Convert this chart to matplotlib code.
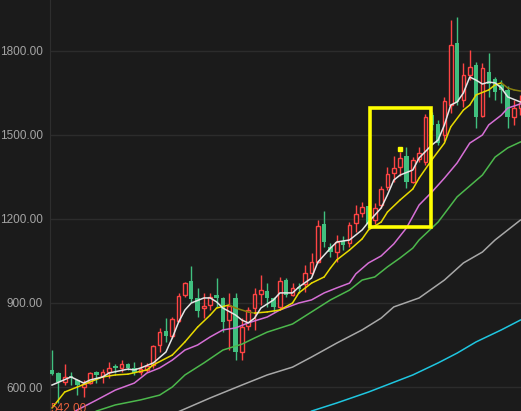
import matplotlib
matplotlib.use("Agg")
import matplotlib.pyplot as plt
from matplotlib.patches import Rectangle
import numpy as np

# daily candles (open, high, low, close)
opens = [661, 650, 618, 640, 625, 600, 614, 654, 640, 654, 675, 668, 682, 668, 654,
         661, 679, 750, 800, 782, 836, 929, 979, 918, 882, 893, 929, 918, 839, 918,
         725, 818, 882, 932, 943, 918, 886, 982, 929, 957, 968, 1007, 1046, 1182, 1100,
         1082, 1121, 1114, 1186, 1221, 1246, 1196, 1250, 1314, 1364, 1386, 1425, 1332, 1414, 1404,
         1571, 1539, 1500, 1607, 1829, 1625, 1714, 1750, 1568, 1725, 1700, 1679, 1661, 1564, 1596]
highs = [732, 652, 682, 654, 628, 625, 652, 656, 664, 689, 682, 696, 686, 689, 689,
         686, 750, 811, 846, 850, 936, 975, 1032, 954, 936, 936, 989, 921, 936, 936,
         846, 886, 954, 1000, 971, 921, 993, 989, 971, 971, 1036, 1079, 1196, 1229, 1114,
         1143, 1139, 1189, 1250, 1261, 1246, 1257, 1318, 1386, 1425, 1439, 1457, 1421, 1457, 1575,
         1582, 1554, 1636, 1911, 1921, 1757, 1804, 1761, 1757, 1793, 1707, 1696, 1675, 1625, 1643]
lows = [643, 542, 607, 607, 571, 564, 611, 614, 614, 632, 650, 654, 661, 643, 643,
        654, 668, 725, 761, 775, 832, 921, 904, 850, 846, 875, 886, 796, 732, 696,
        696, 804, 804, 893, 886, 868, 875, 921, 925, 936, 939, 1000, 1043, 1100, 1064,
        1046, 1089, 1100, 1154, 1207, 1168, 1182, 1239, 1304, 1332, 1354, 1311, 1329, 1404, 1393,
        1518, 1464, 1479, 1579, 1607, 1600, 1696, 1525, 1564, 1636, 1625, 1614, 1525, 1536, 1571]
closes = [646, 618, 636, 632, 607, 611, 650, 643, 654, 668, 668, 682, 668, 650, 664,
          675, 746, 796, 782, 843, 925, 971, 914, 871, 889, 921, 918, 832, 889, 725,
          814, 875, 932, 946, 918, 886, 979, 929, 954, 950, 1007, 1046, 1175, 1118, 1082,
          1118, 1107, 1179, 1218, 1243, 1182, 1239, 1307, 1361, 1382, 1418, 1332, 1411, 1436, 1564,
          1536, 1471, 1621, 1821, 1618, 1714, 1743, 1564, 1739, 1682, 1654, 1661, 1564, 1596, 1614]

# moving average lines (candle index, price)
ma5_idx = [0, 3, 5, 6, 8, 9, 12, 13, 14, 16, 18, 19, 20, 21, 22, 24, 25, 26, 27, 29,
           30, 31, 32, 33, 35, 36, 38, 39, 41, 42, 44, 45, 47, 49, 50, 52, 53, 54, 55, 57,
           58, 60, 61, 62, 63, 64, 65, 66, 67, 68, 69, 70, 71, 72, 74]
ma5 = [607, 636, 614, 625, 636, 650, 664, 661, 668, 686, 725, 775, 832, 875, 900, 918, 918, 904, 882, 857,
       839, 829, 846, 882, 911, 936, 936, 957, 989, 1046, 1096, 1118, 1125, 1161, 1189, 1239, 1286, 1339, 1357, 1375,
       1418, 1464, 1482, 1536, 1607, 1618, 1650, 1707, 1696, 1682, 1689, 1686, 1668, 1636, 1618]

ma10_idx = [0, 2, 4, 6, 8, 10, 12, 15, 16, 19, 21, 23, 25, 26, 28, 29, 31, 32, 34, 36,
            38, 39, 41, 43, 44, 45, 47, 49, 50, 52, 53, 55, 57, 58, 60, 62, 63, 65, 66, 67,
            69, 70, 71, 72, 73, 74]
ma10 = [525, 582, 600, 618, 636, 643, 646, 661, 679, 714, 761, 814, 857, 882, 893, 882, 868, 864, 868, 875,
        900, 936, 971, 993, 1025, 1054, 1089, 1129, 1161, 1189, 1225, 1268, 1307, 1346, 1411, 1471, 1529, 1589, 1607, 1643,
        1661, 1679, 1686, 1668, 1661, 1657]

ma20_idx = [3, 4, 7, 10, 13, 15, 17, 19, 21, 23, 25, 27, 29, 31, 34, 36, 39, 41, 43, 45,
            47, 48, 50, 52, 54, 56, 58, 60, 62, 64, 66, 68, 69, 71, 72, 74]
ma20 = [506, 518, 553, 589, 614, 650, 668, 696, 732, 750, 779, 804, 811, 829, 850, 875, 900, 911, 936, 954,
        971, 1004, 1043, 1068, 1111, 1168, 1250, 1296, 1346, 1400, 1471, 1500, 1536, 1571, 1596, 1611]

ma30_idx = [7, 10, 14, 17, 19, 21, 24, 27, 30, 32, 34, 38, 41, 44, 47, 49, 51, 53, 55, 57,
            58, 61, 64, 68, 70, 72, 74]
ma30 = [514, 536, 554, 571, 600, 643, 686, 732, 753, 775, 796, 825, 868, 911, 946, 982, 993, 1029, 1061, 1096,
        1125, 1189, 1279, 1357, 1421, 1454, 1475]

ma60_idx = [20, 25, 30, 34, 38, 41, 45, 49, 52, 54, 58, 62, 65, 68, 70, 74]
ma60 = [512, 561, 607, 643, 671, 707, 757, 804, 846, 886, 918, 982, 1043, 1082, 1125, 1196]

ma120_idx = [41, 45, 50, 57, 61, 64, 67, 71, 74]
ma120 = [514, 543, 582, 643, 686, 721, 761, 804, 839]

yticks = [600, 900, 1200, 1500, 1800]

# highlighted box and marker
box_from, box_to = 50.2, 59.95
box_low, box_high = 1170, 1595
mark_idx, mark_price = 55.05, 1450

bg = "#1b1b1b"
up_col = "#ff4444"
down_col = "#40c07f"
label_font = ["Liberation Sans", "DejaVu Sans"]

fig = plt.figure(figsize=(5.21, 4.11), dpi=100, facecolor=bg)
ax = fig.add_axes([50 / 521, 0, 471 / 521, 1])
ax.set_facecolor(bg)

x = np.arange(len(opens))
o, h, l, c = (np.array(v, dtype=float) for v in (opens, highs, lows, closes))
up = c >= o

ax.vlines(x[up], l[up], h[up], color=up_col, lw=1, zorder=3)
ax.vlines(x[~up], l[~up], h[~up], color=down_col, lw=1, zorder=3)
ax.bar(x[up], c[up] - o[up], bottom=o[up], width=0.58, facecolor=bg,
       edgecolor=up_col, lw=1, zorder=4)
ax.bar(x[~up], o[~up] - c[~up], bottom=c[~up], width=0.7, color=down_col,
       lw=0, zorder=4)

ax.plot(ma120_idx, ma120, color="#1fc6e0", lw=1.1, zorder=5)
ax.plot(ma60_idx, ma60, color="#a8a8a8", lw=1.1, zorder=5)
ax.plot(ma30_idx, ma30, color="#4cb84c", lw=1.1, zorder=5)
ax.plot(ma20_idx, ma20, color="#d66fd6", lw=1.1, zorder=5)
# yellow line is dimmed where it falls
for k in range(len(ma10) - 1):
    col = "#e8da00" if ma10[k + 1] >= ma10[k] else "#8a8210"
    ax.plot(ma10_idx[k:k + 2], ma10[k:k + 2], color=col, lw=1.1, zorder=5,
            solid_capstyle="round")
ax.plot(ma5_idx, ma5, color="#e6e6e6", lw=1.1, zorder=6)

ax.add_patch(Rectangle((box_from, box_low), box_to - box_from, box_high - box_low,
                       fill=False, edgecolor="#ffff00", lw=2.6, zorder=7))
ax.plot([mark_idx], [mark_price], marker="s", ms=3.2, color="#ffff00", zorder=7)

ax.set_xlim(-0.32, 74.1)
ax.set_ylim(514.3, 1982.1)
ax.set_xticks([])
ax.set_yticks(yticks)
ax.set_yticklabels([f"{v:.2f}" for v in yticks], fontfamily=label_font, fontsize=8.5)
ax.tick_params(axis="y", length=0, pad=5, colors="#a4a4a4")
ax.grid(axis="y", color="#2c2c2c", lw=1)
ax.set_axisbelow(True)
for s in ["top", "right", "bottom"]:
    ax.spines[s].set_visible(False)
ax.spines["left"].set_color("#2e2e2e")

lo = min(lows)
ax.text(-0.3, lo, f"{lo:.2f}", ha="left", va="top", color="#e8603c", fontsize=8.5,
        family=label_font, zorder=8)

fig.savefig("out.png", dpi=100, facecolor=bg)
